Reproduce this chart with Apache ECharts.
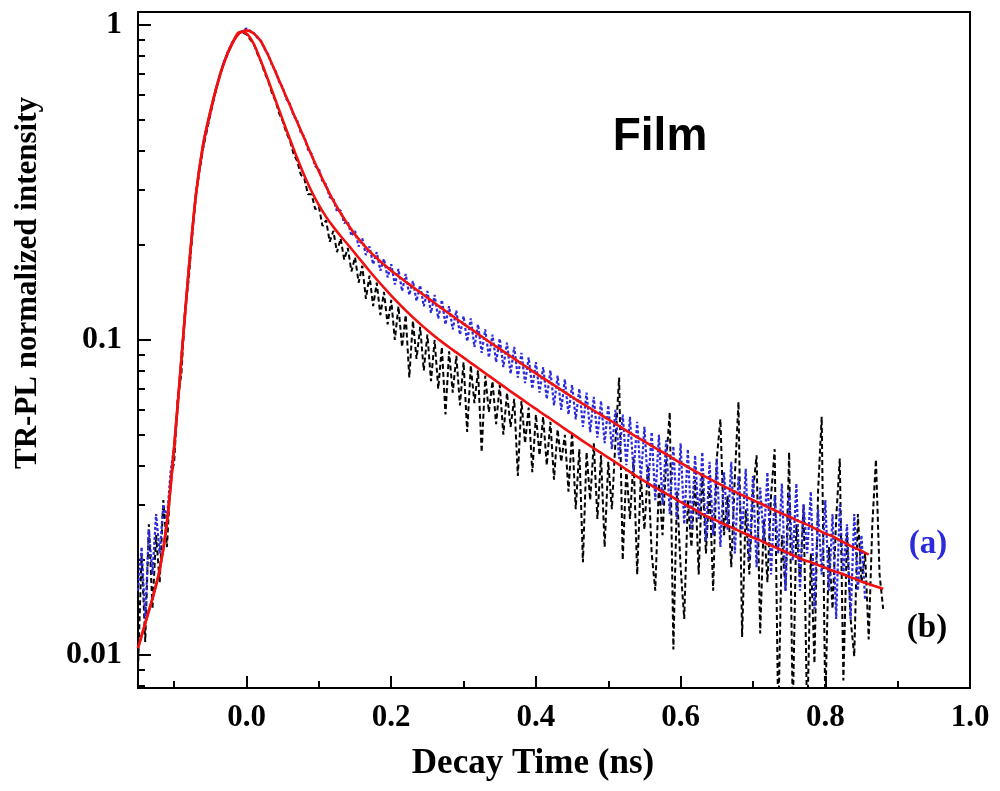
<!DOCTYPE html>
<html>
<head>
<meta charset="utf-8">
<title>TR-PL decay, film</title>
<script src="https://cdn.jsdelivr.net/npm/echarts@6/dist/echarts.min.js"></script>
<style>
  html, body { margin: 0; padding: 0; background: #fff; }
  #main { width: 1000px; height: 791px; }
</style>
</head>
<body>
<div id="main"></div>
<script>
// measured decay traces, 5 ps steps (ns)
var decayTime = [
  -0.15,-0.145,-0.14,-0.135,-0.13,-0.125,-0.12,-0.115,-0.11,-0.105,
  -0.1,-0.095,-0.09,-0.085,-0.08,-0.075,-0.07,-0.065,-0.06,-0.055,
  -0.05,-0.045,-0.04,-0.035,-0.03,-0.025,-0.02,-0.015,-0.01,-0.005,
  0,0.005,0.01,0.015,0.02,0.025,0.03,0.035,0.04,0.045,
  0.05,0.055,0.06,0.065,0.07,0.075,0.08,0.085,0.09,0.095,
  0.1,0.105,0.11,0.115,0.12,0.125,0.13,0.135,0.14,0.145,
  0.15,0.155,0.16,0.165,0.17,0.175,0.18,0.185,0.19,0.195,
  0.2,0.205,0.21,0.215,0.22,0.225,0.23,0.235,0.24,0.245,
  0.25,0.255,0.26,0.265,0.27,0.275,0.28,0.285,0.29,0.295,
  0.3,0.305,0.31,0.315,0.32,0.325,0.33,0.335,0.34,0.345,
  0.35,0.355,0.36,0.365,0.37,0.375,0.38,0.385,0.39,0.395,
  0.4,0.405,0.41,0.415,0.42,0.425,0.43,0.435,0.44,0.445,
  0.45,0.455,0.46,0.465,0.47,0.475,0.48,0.485,0.49,0.495,
  0.5,0.505,0.51,0.515,0.52,0.525,0.53,0.535,0.54,0.545,
  0.55,0.555,0.56,0.565,0.57,0.575,0.58,0.585,0.59,0.595,
  0.6,0.605,0.61,0.615,0.62,0.625,0.63,0.635,0.64,0.645,
  0.65,0.655,0.66,0.665,0.67,0.675,0.68,0.685,0.69,0.695,
  0.7,0.705,0.71,0.715,0.72,0.725,0.73,0.735,0.74,0.745,
  0.75,0.755,0.76,0.765,0.77,0.775,0.78,0.785,0.79,0.795,
  0.8,0.805,0.81,0.815,0.82,0.825,0.83,0.835,0.84,0.845,
  0.85,0.855,0.86,0.865,0.87,0.875,0.88
];

// (a) blue trace, ends at 0.855 ns
var intensityA = [
  0.016,0.022,0.013,0.025,0.018,0.028,0.021,0.03,0.027,0.038,
  0.046,0.062,0.088,0.12,0.165,0.22,0.29,0.35,0.41,0.465,
  0.525,0.59,0.655,0.72,0.78,0.83,0.88,0.915,0.945,0.96,
  0.975,0.958,0.945,0.91,0.892,0.838,0.808,0.748,0.716,0.66,
  0.635,0.582,0.562,0.515,0.498,0.455,0.442,0.402,0.39,0.356,
  0.35,0.318,0.312,0.284,0.281,0.256,0.258,0.235,0.238,0.214,
  0.222,0.198,0.21,0.186,0.198,0.174,0.19,0.166,0.181,0.158,
  0.174,0.15,0.168,0.143,0.162,0.139,0.154,0.133,0.149,0.128,
  0.143,0.122,0.139,0.117,0.134,0.112,0.128,0.108,0.124,0.104,
  0.119,0.099,0.117,0.095,0.112,0.091,0.108,0.088,0.104,0.085,
  0.101,0.082,0.098,0.078,0.095,0.076,0.091,0.073,0.088,0.07,
  0.085,0.068,0.082,0.065,0.08,0.062,0.077,0.06,0.075,0.058,
  0.072,0.056,0.07,0.053,0.068,0.051,0.066,0.049,0.064,0.047,
  0.062,0.045,0.06,0.042,0.058,0.04,0.057,0.038,0.055,0.036,
  0.053,0.034,0.051,0.031,0.05,0.03,0.048,0.028,0.046,0.027,
  0.047,0.026,0.045,0.025,0.043,0.027,0.044,0.023,0.041,0.024,
  0.042,0.022,0.038,0.025,0.041,0.021,0.037,0.024,0.039,0.02,
  0.037,0.019,0.034,0.023,0.038,0.018,0.032,0.021,0.035,0.016,
  0.033,0.02,0.035,0.016,0.03,0.021,0.033,0.014,0.029,0.018,
  0.031,0.016,0.028,0.013,0.03,0.018,0.026,0.013,0.028,0.016,
  0.024,0.015
];

// (b) black trace, ends at 0.88 ns
var intensityB = [
  0.009,0.021,0.011,0.026,0.014,0.024,0.017,0.031,0.022,0.036,
  0.041,0.066,0.078,0.125,0.155,0.215,0.29,0.345,0.405,0.46,
  0.52,0.585,0.65,0.715,0.775,0.83,0.875,0.915,0.945,0.945,
  0.935,0.9,0.87,0.81,0.765,0.705,0.665,0.61,0.575,0.525,
  0.495,0.455,0.43,0.39,0.37,0.335,0.325,0.29,0.29,0.26,
  0.265,0.23,0.24,0.205,0.222,0.19,0.21,0.18,0.196,0.165,
  0.183,0.152,0.172,0.135,0.16,0.128,0.152,0.12,0.142,0.112,
  0.134,0.1,0.128,0.095,0.12,0.076,0.115,0.087,0.11,0.08,
  0.104,0.074,0.1,0.07,0.095,0.058,0.092,0.068,0.089,0.062,
  0.085,0.051,0.083,0.063,0.08,0.044,0.077,0.059,0.074,0.054,
  0.072,0.05,0.068,0.053,0.065,0.037,0.064,0.047,0.061,0.038,
  0.058,0.043,0.057,0.04,0.055,0.036,0.052,0.041,0.05,0.033,
  0.051,0.029,0.045,0.0197,0.044,0.031,0.047,0.027,0.043,0.022,
  0.041,0.029,0.048,0.076,0.02,0.039,0.027,0.042,0.018,0.037,
  0.025,0.04,0.021,0.016,0.035,0.024,0.041,0.059,0.0104,0.033,
  0.019,0.013,0.031,0.022,0.036,0.018,0.038,0.021,0.034,0.016,
  0.042,0.056,0.024,0.032,0.019,0.037,0.0636,0.0114,0.029,0.018,
  0.033,0.043,0.0117,0.027,0.017,0.032,0.045,0.006,0.024,0.016,
  0.044,0.0065,0.026,0.017,0.03,0.006,0.021,0.0094,0.033,0.057,
  0.0068,0.022,0.014,0.027,0.042,0.0083,0.024,0.013,0.0099,0.028,
  0.017,0.021,0.0112,0.026,0.0417,0.018,0.014
];

// fitted curves, 10 ps steps
var fitTime = [
  -0.15,-0.14,-0.13,-0.12,-0.11,-0.1,-0.09,-0.08,-0.07,-0.06,
  -0.05,-0.04,-0.03,-0.02,-0.01,0,0.01,0.02,0.03,0.04,
  0.05,0.06,0.07,0.08,0.09,0.1,0.11,0.12,0.13,0.14,
  0.15,0.16,0.17,0.18,0.19,0.2,0.21,0.22,0.23,0.24,
  0.25,0.26,0.27,0.28,0.29,0.3,0.31,0.32,0.33,0.34,
  0.35,0.36,0.37,0.38,0.39,0.4,0.41,0.42,0.43,0.44,
  0.45,0.46,0.47,0.48,0.49,0.5,0.51,0.52,0.53,0.54,
  0.55,0.56,0.57,0.58,0.59,0.6,0.61,0.62,0.63,0.64,
  0.65,0.66,0.67,0.68,0.69,0.7,0.71,0.72,0.73,0.74,
  0.75,0.76,0.77,0.78,0.79,0.8,0.81,0.82,0.83,0.84,
  0.85,0.86,0.87,0.88
];
var fitA = [
  0.0105,0.0126,0.0151,0.0186,0.0263,0.0457,0.0871,0.166,0.288,0.417,
  0.531,0.653,0.771,0.871,0.942,0.962,0.94,0.887,0.80,0.71,
  0.628,0.556,0.492,0.436,0.385,0.343,0.307,0.277,0.253,0.233,
  0.216,0.203,0.191,0.182,0.1735,0.166,0.1594,0.1531,0.1472,0.1416,
  0.1362,0.131,0.126,0.1213,0.1168,0.1125,0.1084,0.1045,0.1007,0.097,
  0.0937,0.0904,0.0872,0.0841,0.0812,0.0783,0.0757,0.0731,0.0706,0.0682,
  0.0659,0.0637,0.0617,0.0597,0.0578,0.056,0.0542,0.0524,0.0507,0.0491,
  0.0476,0.0461,0.0447,0.0434,0.042,0.0407,0.0395,0.0383,0.0372,0.0362,
  0.0352,0.0343,0.0334,0.0325,0.0318,0.031,0.0303,0.0295,0.0288,0.0281,
  0.0275,0.0268,0.0262,0.0256,0.0249,0.0243,0.0238,0.0231,0.0225,0.0219,
  0.0214,0.0208
];
var fitB = [
  0.0105,0.0126,0.0151,0.0186,0.0263,0.0457,0.0871,0.166,0.288,0.417,
  0.531,0.653,0.771,0.871,0.95,0.94,0.871,0.767,0.668,0.578,
  0.50,0.434,0.378,0.332,0.296,0.268,0.246,0.2286,0.2138,0.201,
  0.1884,0.1766,0.1656,0.1556,0.1466,0.1384,0.1309,0.1242,0.118,0.1125,
  0.1074,0.1028,0.0986,0.0948,0.0913,0.0879,0.0846,0.0815,0.0784,0.0755,
  0.0727,0.07,0.0674,0.065,0.0626,0.0604,0.0582,0.0562,0.0542,0.0522,
  0.0504,0.0486,0.0469,0.0453,0.0438,0.0423,0.0409,0.0395,0.0381,0.0368,
  0.0356,0.0345,0.0335,0.0325,0.0316,0.0306,0.0297,0.0289,0.028,0.0273,
  0.0267,0.026,0.0254,0.0248,0.0242,0.0236,0.0231,0.0225,0.022,0.0215,
  0.021,0.0205,0.02,0.0197,0.0193,0.0189,0.0185,0.0182,0.0178,0.0175,
  0.0171,0.0168,0.0165,0.0162
];

var xMajorTicks = [0, 0.2, 0.4, 0.6, 0.8, 1.0];
var xMinorTicks = [-0.1, 0.1, 0.3, 0.5, 0.7, 0.9];
var yMajorTicks = [0.01, 0.1, 1];
var yMinorTicks = [0.008, 0.009, 0.02, 0.03, 0.04, 0.05, 0.06, 0.07, 0.08, 0.09,
                   0.2, 0.3, 0.4, 0.5, 0.6, 0.7, 0.8, 0.9];

var X_MIN = -0.15, X_MAX = 1.0, Y_MIN = 0.00785, Y_MAX = 1.1;
var serif = "'Liberation Serif', 'Times New Roman', serif";
var sans = "'Liberation Sans', Arial, sans-serif";

function pairs(xs, ys) {
  return ys.map(function (v, i) { return [xs[i], v]; });
}

function xAxisDef(ticks, len, withLabels) {
  return {
    type: 'value', min: X_MIN, max: X_MAX, position: 'bottom',
    axisLine: { show: false, onZero: false },
    splitLine: { show: false },
    axisTick: { inside: true, length: len, customValues: ticks, lineStyle: { color: '#000', width: 2 } },
    axisLabel: {
      show: withLabels, customValues: ticks, margin: 14,
      color: '#000', fontFamily: serif, fontWeight: 'bold', fontSize: 31,
      formatter: function (v) { return v.toFixed(1); }
    }
  };
}

function yAxisDef(ticks, len, withLabels) {
  return {
    type: 'log', logBase: 10, min: Y_MIN, max: Y_MAX, position: 'left',
    axisLine: { show: false, onZero: false },
    splitLine: { show: false },
    axisTick: { inside: true, length: len, customValues: ticks, lineStyle: { color: '#000', width: 2 } },
    axisLabel: {
      show: withLabels, customValues: ticks, margin: 16,
      color: '#000', fontFamily: serif, fontWeight: 'bold', fontSize: 32,
      formatter: function (v) { return String(+(+v).toPrecision(2)); }
    }
  };
}

var chart = echarts.init(document.getElementById('main'));
chart.setOption({
  animation: false,
  backgroundColor: '#fff',
  grid: { left: 138, top: 12, right: 30, bottom: 103, show: true, borderColor: '#000', borderWidth: 2 },
  xAxis: [xAxisDef(xMajorTicks, 12, true), xAxisDef(xMinorTicks, 7, false)],
  yAxis: [yAxisDef(yMajorTicks, 13, true), yAxisDef(yMinorTicks, 7, false)],
  series: [
    { name: '(b)', type: 'line', data: pairs(decayTime, intensityB), showSymbol: false, symbol: 'none',
      lineStyle: { color: '#000', width: 2, type: [5, 3] }, z: 2 },
    { name: '(a)', type: 'line', data: pairs(decayTime, intensityA), showSymbol: false, symbol: 'none',
      lineStyle: { color: '#2b2bdc', width: 2.2, type: [3, 2] }, z: 3 },
    { name: 'fit (b)', type: 'line', data: pairs(fitTime, fitB), showSymbol: false, symbol: 'none', smooth: 0.25,
      lineStyle: { color: '#f01010', width: 2.6 }, z: 4 },
    { name: 'fit (a)', type: 'line', data: pairs(fitTime, fitA), showSymbol: false, symbol: 'none', smooth: 0.25,
      lineStyle: { color: '#f01010', width: 2.6 }, z: 4 }
  ],
  graphic: [
    { type: 'text', x: 533, y: 764, style: { text: 'Decay Time (ns)', font: 'bold 35px ' + serif, fill: '#000', textAlign: 'center', textVerticalAlign: 'middle' } },
    { type: 'text', x: 28, y: 283, rotation: Math.PI / 2, style: { text: 'TR-PL normalized intensity', font: 'bold 31px ' + serif, fill: '#000', textAlign: 'center', textVerticalAlign: 'middle' } },
    { type: 'text', x: 660, y: 137, style: { text: 'Film', font: 'bold 46px ' + sans, fill: '#000', textAlign: 'center', textVerticalAlign: 'middle' } },
    { type: 'text', x: 928, y: 544, style: { text: '(a)', font: 'bold 33px ' + serif, fill: '#2b2bdc', textAlign: 'center', textVerticalAlign: 'middle' } },
    { type: 'text', x: 927, y: 628, style: { text: '(b)', font: 'bold 33px ' + serif, fill: '#000', textAlign: 'center', textVerticalAlign: 'middle' } }
  ]
});
</script>
</body>
</html>
